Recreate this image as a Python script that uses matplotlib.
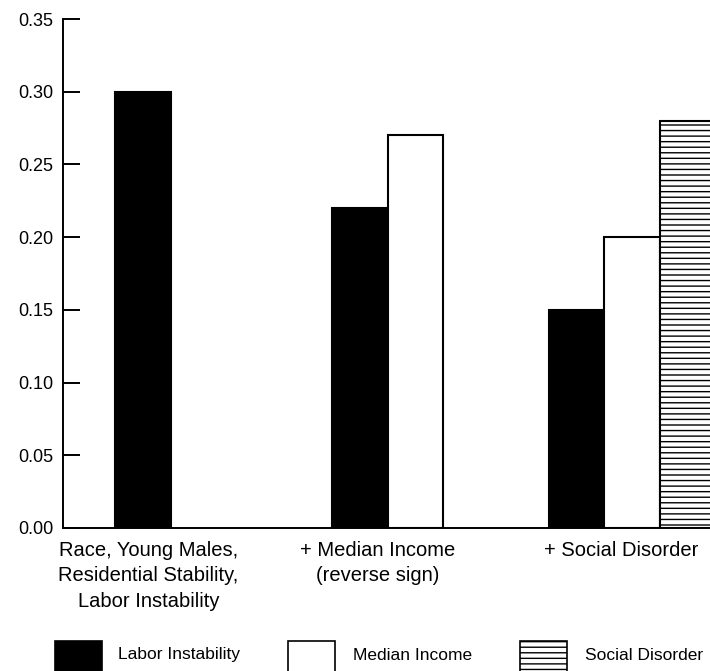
import numpy as np
import matplotlib.pyplot as plt
from matplotlib.patches import Rectangle

plt.rcParams['font.family'] = ['Liberation Sans', 'DejaVu Sans']
plt.rcParams['hatch.color'] = '#333333'

groups = ["Race, Young Males,\nResidential Stability,\nLabor Instability",
          "+ Median Income\n(reverse sign)",
          "+ Social Disorder"]
series = ["Labor Instability", "Median Income", "Social Disorder"]
labor = [0.30, 0.22, 0.15]
income = [np.nan, 0.27, 0.20]
disorder = [np.nan, np.nan, 0.28]
yticks = [0.00, 0.05, 0.10, 0.15, 0.20, 0.25, 0.30, 0.35]

styles = [dict(facecolor="black", hatch=None),
          dict(facecolor="white", hatch=None),
          dict(facecolor="white", hatch="---")]

fig = plt.figure(figsize=(7.1, 6.71), dpi=100)
ax = fig.add_axes([63 / 710, (671 - 528) / 671, 1 - 63 / 710, 509 / 671])

pitch = 3.9
for k, vals in enumerate([labor, income, disorder]):
    for g, v in enumerate(vals):
        if np.isnan(v):
            continue
        ax.bar(g * pitch + k, v, width=1.0, edgecolor="black", linewidth=1.5,
               color=styles[k]["facecolor"], hatch=styles[k]["hatch"])

ax.set_xlim(-1.44, 10.2)
ax.set_ylim(0, 0.35)
ax.set_yticks(yticks)
ax.set_yticklabels(["%.2f" % t for t in yticks], fontsize=13)
ax.tick_params(axis="y", direction="in", length=12.5, width=1.4, pad=7)
ax.set_xticks([0.1, 4.22, 8.6])
ax.set_xticklabels(groups, fontsize=14.5, linespacing=1.45)
ax.tick_params(axis="x", length=0, pad=9)
ax.spines["top"].set_visible(False)
ax.spines["right"].set_visible(False)
ax.spines["left"].set_linewidth(1.4)
ax.spines["bottom"].set_linewidth(1.4)

# legend drawn by hand along the bottom
box_x = [55, 288, 520]
text_x = [118, 353, 585]
for k, name in enumerate(series):
    r = Rectangle((box_x[k] / 710, (671 - 676) / 671), 47 / 710, 35 / 671,
                  transform=fig.transFigure, facecolor=styles[k]["facecolor"],
                  edgecolor="black", linewidth=1.2, hatch=styles[k]["hatch"])
    fig.add_artist(r)
    fig.text(text_x[k] / 710, (671 - 655) / 671, name, fontsize=12.5,
             va="center", ha="left")

fig.savefig("out.png", dpi=100)
